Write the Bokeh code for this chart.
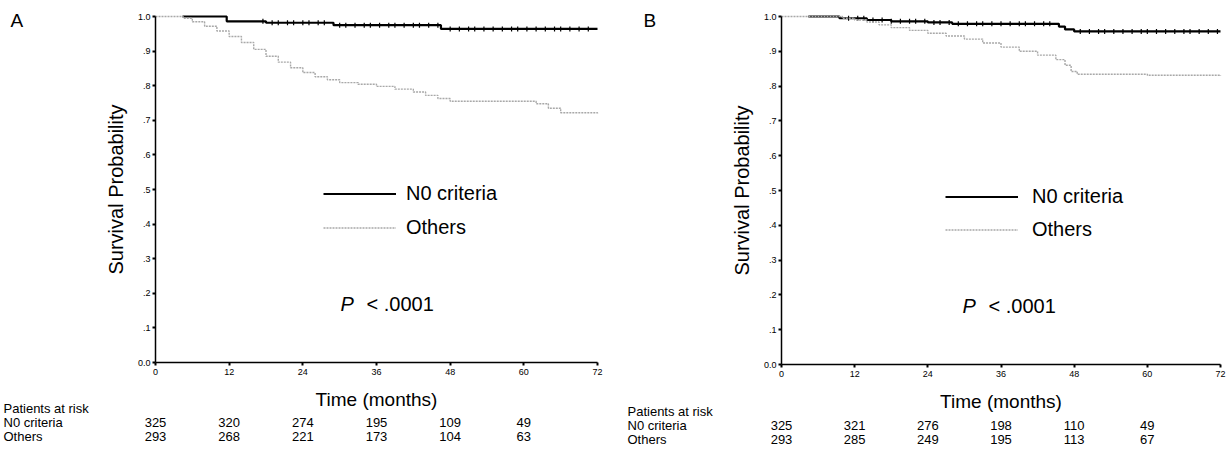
import numpy as np
from bokeh.plotting import figure
from bokeh.models import FixedTicker, Label, Legend, LegendItem, CustomJSTickFormatter
from bokeh.layouts import row
from bokeh.embed import file_html
from bokeh.resources import INLINE

FONT = "Liberation Sans"

# ---------------- data ----------------
x_ticks = [0, 12, 24, 36, 48, 60, 72]
y_ticks = [0, 0.1, 0.2, 0.3, 0.4, 0.5, 0.6, 0.7, 0.8, 0.9, 1]

series_names = ["N0 criteria", "Others"]

# Panel A
a_n0_time = [4.4, 11.6, 18.0, 29.0, 46.5, 72.0]
a_n0_surv = [1.0, 0.986, 0.982, 0.975, 0.964, 0.964]
a_n0_cens = [17.5, 19, 20, 21.5, 22.5, 24, 25, 26.5, 27.5, 30, 31, 32.5, 34, 35, 36.5,
             38, 39, 40.5, 42, 43, 44.5, 46, 48, 49.5, 51, 52, 53.5, 55, 56.5, 58, 59,
             60.5, 62, 63.5, 65, 66, 67.5, 69, 70.5]
a_oth_time = [0, 4.5, 6, 8, 10, 12, 14, 16, 18, 20, 22, 24, 26, 28, 30, 33, 36, 39, 42,
              44, 46, 48, 62, 64, 66, 72]
a_oth_surv = [1.0, 0.995, 0.985, 0.972, 0.958, 0.942, 0.925, 0.905, 0.885, 0.868, 0.852,
              0.838, 0.826, 0.817, 0.809, 0.804, 0.798, 0.79, 0.782, 0.772, 0.763, 0.755,
              0.748, 0.735, 0.722, 0.72]

# Panel B
b_n0_time = [4.4, 9.5, 14, 18, 24, 28, 45.5, 46.5, 48, 72]
b_n0_surv = [1.0, 0.995, 0.99, 0.986, 0.983, 0.979, 0.971, 0.963, 0.957, 0.957]
b_n0_cens = [11, 12.5, 13.5, 15, 16.5, 18, 19.5, 21, 22, 23.5, 25, 26, 27.5, 29, 30.5, 32,
             33, 34.5, 36, 37.5, 39, 40, 41.5, 43, 44, 49, 50.5, 52, 53, 54.5, 56, 57.5,
             59, 60, 61.5, 63, 64.5, 66, 67, 68.5, 70, 71.5]
b_oth_time = [0, 10, 12, 14, 16, 18, 21, 24, 27, 30, 33, 36, 39, 42, 45, 46.5, 47.5, 48.5,
              60, 72]
b_oth_surv = [1.0, 0.995, 0.99, 0.984, 0.976, 0.968, 0.96, 0.952, 0.944, 0.935, 0.924,
              0.912, 0.9, 0.889, 0.876, 0.86, 0.842, 0.834, 0.831, 0.829]

# Patients at risk
risk_times = [0, 12, 24, 36, 48, 60]
a_risk_n0 = [325, 320, 274, 195, 109, 49]
a_risk_oth = [293, 268, 221, 173, 104, 63]
b_risk_n0 = [325, 321, 276, 198, 110, 49]
b_risk_oth = [293, 285, 249, 195, 113, 67]

p_text = "< .0001"
risk_title = "Patients at risk"

H = 449


def surv_at(t_arr, s_arr, times):
    idx = np.searchsorted(np.array(t_arr), np.array(times), side="right") - 1
    return np.array(s_arr)[idx]


def make_panel(letter, n0_t, n0_s, n0_c, oth_t, oth_s, risk_n0, risk_oth, lay):
    # lay: pixel layout of this panel (page pixels)
    W = lay["right"] - lay["left"]
    ppx = (lay["x72"] - lay["x0"]) / 72.0          # px per month
    ppy = (lay["y0"] - lay["y1"]) / 1.0            # px per unit
    xs = (lay["left"] - lay["x0"]) / ppx
    xe = (lay["right"] - lay["x0"]) / ppx
    ye = lay["y0"] / ppy
    ys = -(H - lay["y0"]) / ppy

    def dx(px):
        return (px - lay["x0"]) / ppx

    def dy(py):
        return (lay["y0"] - py) / ppy

    p = figure(width=W, height=H, x_range=(xs, xe), y_range=(ys, ye),
               output_backend="svg", toolbar_location=None,
               min_border_left=0, min_border_right=0,
               min_border_top=0, min_border_bottom=0)
    p.outline_line_color = None
    p.grid.visible = False
    p.background_fill_color = "white"
    p.border_fill_color = "white"

    # axes drawn at the data origin
    p.xaxis.fixed_location = 0
    p.yaxis.fixed_location = 0
    p.xaxis.bounds = (0, 72)
    p.yaxis.bounds = (0, 1)
    for ax in (p.xaxis, p.yaxis):
        ax.axis_line_color = "black"
        ax.axis_line_width = 1.5
        ax.major_tick_line_color = "black"
        ax.major_tick_line_width = 2
        ax.major_tick_out = 3
        ax.major_tick_in = 0
        ax.minor_tick_line_color = None
        ax.major_label_text_font = FONT
        ax.major_label_text_font_size = "9px"
        ax.major_label_text_color = "black"
        ax.axis_label_text_font = FONT
        ax.axis_label_text_font_style = "normal"
        ax.axis_label_text_color = "black"
    p.xaxis.ticker = FixedTicker(ticks=x_ticks)
    p.yaxis.ticker = FixedTicker(ticks=y_ticks)
    p.yaxis.formatter = CustomJSTickFormatter(
        code="return tick < 0.001 ? '0.0' : (tick > 0.999 ? '1.0' : tick.toFixed(1).slice(1));")
    p.xaxis.major_label_standoff = 3
    p.yaxis.major_label_standoff = 2
    p.xaxis.axis_label = "Time (months)"
    p.xaxis.axis_label_text_font_size = "19px"
    p.xaxis.axis_label_standoff = 11
    p.yaxis.axis_label = "Survival Probability"
    p.yaxis.axis_label_text_font_size = "20px"
    p.yaxis.axis_label_standoff = 8

    # curves
    n0_color = "black"
    oth_color = "#a8a8a8"
    r_n0 = p.step(n0_t, n0_s, mode="after", line_color=n0_color, line_width=2.2)
    p.scatter(n0_c, surv_at(n0_t, n0_s, n0_c), marker="dash", angle=np.pi / 2,
              size=5, line_color=n0_color, line_width=1.2)
    r_oth = p.step(oth_t, oth_s, mode="after", line_color=oth_color, line_width=1.4,
                   line_dash="2 1")

    # legend
    legend = Legend(items=[LegendItem(label=series_names[0], renderers=[r_n0]),
                           LegendItem(label=series_names[1], renderers=[r_oth])],
                    location=(lay["leg_left"] - lay["left"], H - lay["leg_bottom"]),
                    border_line_color=None, background_fill_alpha=0,
                    padding=0, margin=0, spacing=lay["leg_spacing"], glyph_width=73,
                    glyph_height=23, label_height=23, label_standoff=lay["leg_standoff"],
                    label_text_font=FONT, label_text_font_size="20px",
                    label_text_color="black")
    p.add_layout(legend)

    # P value
    p.add_layout(Label(x=dx(lay["p_x"]), y=dy(lay["p_y"]), text="P", text_font=FONT,
                       text_font_size="20px", text_font_style="italic", text_color="black",
                       text_baseline="middle", text_align="left"))
    p.add_layout(Label(x=dx(lay["p_x"] + 26), y=dy(lay["p_y"]), text=p_text, text_font=FONT,
                       text_font_size="20px", text_color="black",
                       text_baseline="middle", text_align="left"))

    # panel letter
    p.add_layout(Label(x=dx(lay["letter_x"]), y=dy(20), text=letter, text_font=FONT,
                       text_font_size="19px", text_color="black",
                       text_baseline="middle", text_align="left"))

    # patients at risk table
    rows_y = [dy(v) for v in lay["rows"]]
    for txt, yy in zip([risk_title, series_names[0], series_names[1]], rows_y):
        p.add_layout(Label(x=dx(lay["row_x"]), y=yy, text=txt, text_font=FONT,
                           text_font_size="13px", text_color="black",
                           text_baseline="middle", text_align="left"))
    for t, n1, n2 in zip(risk_times, risk_n0, risk_oth):
        p.add_layout(Label(x=t, y=rows_y[1], text=str(n1), text_font=FONT,
                           text_font_size="13px", text_color="black",
                           text_baseline="middle", text_align="center"))
        p.add_layout(Label(x=t, y=rows_y[2], text=str(n2), text_font=FONT,
                           text_font_size="13px", text_color="black",
                           text_baseline="middle", text_align="center"))
    return p


lay_a = dict(left=0, right=610, x0=155, x72=597, y1=16, y0=362,
             leg_left=323, leg_bottom=238.5, leg_spacing=11, leg_standoff=10,
             p_x=340, p_y=303, letter_x=10, rows=[408, 422, 436], row_x=3)
lay_b = dict(left=610, right=1228, x0=781, x72=1220, y1=16, y0=364,
             leg_left=945, leg_bottom=240.5, leg_spacing=10, leg_standoff=14,
             p_x=962, p_y=305, letter_x=643, rows=[411, 425, 439], row_x=627)

pa = make_panel("A", a_n0_time, a_n0_surv, a_n0_cens, a_oth_time, a_oth_surv,
                a_risk_n0, a_risk_oth, lay_a)
pb = make_panel("B", b_n0_time, b_n0_surv, b_n0_cens, b_oth_time, b_oth_surv,
                b_risk_n0, b_risk_oth, lay_b)

layout = row(pa, pb)
open("out.html", "w").write(file_html(layout, INLINE))
